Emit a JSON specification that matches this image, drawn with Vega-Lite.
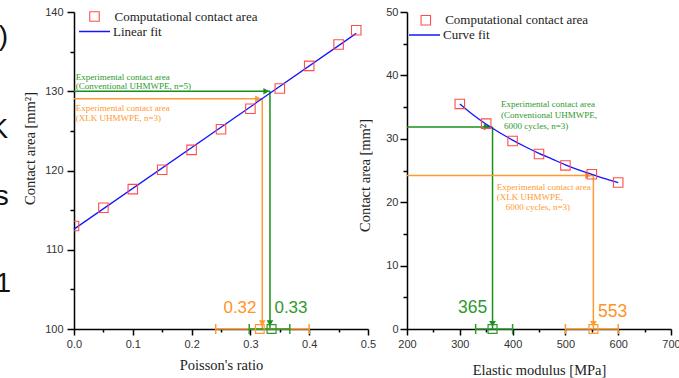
{
  "$schema": "https://vega.github.io/schema/vega-lite/v6.json",
  "autosize": {"type": "none"},
  "width": 605,
  "height": 317,
  "padding": {"left": 74, "top": 12, "right": 0, "bottom": 49},
  "background": "white",
  "config": {
    "view": {"stroke": null},
    "axis": {"grid": false, "domainColor": "#000", "domainWidth": 1.5, "tickColor": "#000", "tickWidth": 1.5, "labelFont": "Liberation Sans", "labelFontSize": 11, "labelColor": "#333", "titleFont": "Liberation Serif", "titleFontSize": 14.5, "titleFontWeight": "normal", "titleColor": "#222", "labelFlush": false, "labelOverlap": false, "labelBound": false},
    "legend": {"padding": 0, "labelFont": "Liberation Serif", "labelFontSize": 13, "labelColor": "#222"}
  },
  "layer": [
    {
      "encoding": {
        "x": {"field": "x", "type": "quantitative", "scale": {"domain": [0, 0.5], "range": [0, 294], "nice": false, "zero": false},
          "axis": {"orient": "bottom", "title": "Poisson's ratio", "values": [0, 0.05, 0.1, 0.15, 0.2, 0.25, 0.3, 0.35, 0.4, 0.45, 0.5],
            "labelExpr": "round(datum.value*100) % 10 == 0 ? format(datum.value, '.1f') : ''",
            "tickSize": {"condition": {"test": "round(datum.value*100) % 10 != 0", "value": 3}, "value": 6},
            "labelPadding": 3, "titleY": 36, "titleBaseline": "middle"}},
        "y": {"field": "y", "type": "quantitative", "scale": {"domain": [100, 140], "range": [317, 0], "nice": false, "zero": false},
          "axis": {"orient": "left", "title": "Contact area [mm²]", "values": [100, 105, 110, 115, 120, 125, 130, 135, 140],
            "labelExpr": "datum.value % 10 == 0 ? datum.label : ''",
            "tickSize": {"condition": {"test": "datum.value % 10 != 0", "value": 4}, "value": 7},
            "labelPadding": 4, "titleX": -37, "titleY": 136, "titleBaseline": "bottom"}}
      },
      "layer": [
        {
          "data": {"values": [{"x": -0.112, "y": 136.8, "t": ")"}, {"x": -0.112, "y": 125.1, "t": "K"}, {"x": -0.111, "y": 116.7, "t": "s"}, {"x": -0.107, "y": 105.7, "t": "1"}]},
          "mark": {"type": "text", "align": "right", "baseline": "middle", "font": "Liberation Sans", "fontSize": 28, "color": "#111"},
          "encoding": {"text": {"field": "t"}}
        },
        {
          "data": {"values": [{"x": 0, "x2": 0.3333, "y": 130, "y2": 130}, {"x": 0.3333, "x2": 0.3333, "y": 130, "y2": 100}]},
          "mark": {"type": "rule", "color": "#1a8f1a", "strokeWidth": 1.5},
          "encoding": {"x2": {"field": "x2"}, "y2": {"field": "y2"}}
        },
        {
          "data": {"values": [{"x": 0, "x2": 0.3202, "y": 129.05, "y2": 129.05}, {"x": 0.3202, "x2": 0.3202, "y": 129.05, "y2": 100}]},
          "mark": {"type": "rule", "color": "#ff9a33", "strokeWidth": 1.5},
          "encoding": {"x2": {"field": "x2"}, "y2": {"field": "y2"}}
        },
        {
          "data": {"values": [{"x": 0.327, "y": 130}]},
          "mark": {"type": "point", "shape": "triangle-right", "filled": true, "size": 45, "color": "#1a8f1a", "opacity": 1},
          "encoding": {}
        },
        {
          "data": {"values": [{"x": 0.3333, "y": 100.75}]},
          "mark": {"type": "point", "shape": "triangle-down", "filled": true, "size": 45, "color": "#1a8f1a", "opacity": 1},
          "encoding": {}
        },
        {
          "data": {"values": [{"x": 0.313, "y": 129.05}]},
          "mark": {"type": "point", "shape": "triangle-right", "filled": true, "size": 45, "color": "#ff9a33", "opacity": 1},
          "encoding": {}
        },
        {
          "data": {"values": [{"x": 0.3202, "y": 100.75}]},
          "mark": {"type": "point", "shape": "triangle-down", "filled": true, "size": 45, "color": "#ff9a33", "opacity": 1},
          "encoding": {}
        },
        {
          "data": {"values": [{"x": 0.241, "x2": 0.4, "y": 100}]},
          "mark": {"type": "rule", "color": "#ff9a33", "strokeWidth": 1.5},
          "encoding": {"x2": {"field": "x2"}}
        },
        {
          "data": {"values": [{"x": 0.241, "y": 100}, {"x": 0.4, "y": 100}]},
          "mark": {"type": "tick", "orient": "vertical", "size": 10, "thickness": 1.5, "color": "#ff9a33", "opacity": 1},
          "encoding": {}
        },
        {
          "data": {"values": [{"x": 0.298, "x2": 0.367, "y": 100}]},
          "mark": {"type": "rule", "color": "#2e9a2e", "strokeWidth": 1.5},
          "encoding": {"x2": {"field": "x2"}}
        },
        {
          "data": {"values": [{"x": 0.298, "y": 100}, {"x": 0.367, "y": 100}]},
          "mark": {"type": "tick", "orient": "vertical", "size": 10, "thickness": 1.5, "color": "#2e9a2e", "opacity": 1},
          "encoding": {}
        },
        {
          "data": {"values": [{"x": 0.316, "y": 100}]},
          "mark": {"type": "point", "shape": "square", "filled": false, "size": 75, "strokeWidth": 1.2, "color": "#ff9a33", "opacity": 1},
          "encoding": {}
        },
        {
          "data": {"values": [{"x": 0.336, "y": 100}]},
          "mark": {"type": "point", "shape": "square", "filled": false, "size": 80, "strokeWidth": 1.2, "color": "#2e9a2e", "opacity": 1},
          "encoding": {}
        },
        {
          "data": {"values": [{"x": 0, "y": 112.6, "series": "Linear fit"}, {"x": 0.48, "y": 137.3, "series": "Linear fit"}]},
          "mark": {"type": "line", "strokeWidth": 1.3},
          "encoding": {
            "color": {"field": "series", "type": "nominal", "scale": {"domain": ["Linear fit"], "range": ["#1414ff"]},
              "legend": {"orient": "none", "title": null, "legendX": 4, "legendY": 3, "symbolType": "stroke", "symbolSize": 961, "symbolStrokeWidth": 1.5, "labelOffset": 2}}
          }
        },
        {
          "data": {"values": [
            {"x": 0, "y": 113.0, "series": "Computational contact area"},
            {"x": 0.05, "y": 115.3, "series": "Computational contact area"},
            {"x": 0.1, "y": 117.65, "series": "Computational contact area"},
            {"x": 0.15, "y": 120.1, "series": "Computational contact area"},
            {"x": 0.2, "y": 122.6, "series": "Computational contact area"},
            {"x": 0.25, "y": 125.2, "series": "Computational contact area"},
            {"x": 0.3, "y": 127.8, "series": "Computational contact area"},
            {"x": 0.35, "y": 130.35, "series": "Computational contact area"},
            {"x": 0.4, "y": 133.2, "series": "Computational contact area"},
            {"x": 0.45, "y": 135.9, "series": "Computational contact area"},
            {"x": 0.48, "y": 137.7, "series": "Computational contact area"}
          ]},
          "mark": {"type": "point", "filled": false, "size": 90, "strokeWidth": 1.1, "color": "#ff4d4d", "opacity": 1, "clip": true},
          "encoding": {
            "shape": {"field": "series", "type": "nominal", "scale": {"domain": ["Computational contact area"], "range": ["square"]},
              "legend": {"orient": "none", "title": null, "legendX": 14, "legendY": -2, "symbolSize": 90, "symbolStrokeColor": "#ff4d4d", "symbolFillColor": "transparent", "symbolStrokeWidth": 1.1, "labelOffset": 13.5}}
          }
        },
        {
          "data": {"values": [{"x": 0.003, "y": 131.8, "t": "Experimental contact area"}, {"x": 0.003, "y": 130.66, "t": "(Conventional UHMWPE, n=5)"}]},
          "mark": {"type": "text", "align": "left", "baseline": "middle", "font": "Liberation Serif", "fontSize": 9, "color": "#2e9a2e"},
          "encoding": {"text": {"field": "t"}}
        },
        {
          "data": {"values": [{"x": 0.003, "y": 127.92, "t": "Experimental contact area"}, {"x": 0.003, "y": 126.66, "t": "(XLK UHMWPE, n=3)"}]},
          "mark": {"type": "text", "align": "left", "baseline": "middle", "font": "Liberation Serif", "fontSize": 9, "color": "#ff9a33"},
          "encoding": {"text": {"field": "t"}}
        },
        {
          "data": {"values": [{"x": 0.2823, "y": 102.69, "t": "0.32"}]},
          "mark": {"type": "text", "align": "center", "baseline": "middle", "font": "Liberation Sans", "fontSize": 17, "color": "#ff9326"},
          "encoding": {"text": {"field": "t"}}
        },
        {
          "data": {"values": [{"x": 0.369, "y": 102.69, "t": "0.33"}]},
          "mark": {"type": "text", "align": "center", "baseline": "middle", "font": "Liberation Sans", "fontSize": 17, "color": "#2e9a2e"},
          "encoding": {"text": {"field": "t"}}
        }
      ]
    },
    {
      "encoding": {
        "x": {"field": "x", "type": "quantitative", "scale": {"domain": [200, 700], "range": [333, 597], "nice": false, "zero": false},
          "axis": {"orient": "bottom", "title": "Elastic modulus [MPa]", "values": [200, 250, 300, 350, 400, 450, 500, 550, 600, 650, 700],
            "labelExpr": "datum.value % 100 == 0 ? datum.label : ''",
            "tickSize": {"condition": {"test": "datum.value % 100 != 0", "value": 3}, "value": 6},
            "labelPadding": 3, "titleY": 41, "titleBaseline": "middle"}},
        "y": {"field": "y", "type": "quantitative", "scale": {"domain": [0, 50], "range": [317, 0], "nice": false, "zero": false},
          "axis": {"orient": "left", "offset": -333, "title": "Contact area [mm²]", "values": [0, 5, 10, 15, 20, 25, 30, 35, 40, 45, 50],
            "labelExpr": "datum.value % 10 == 0 ? datum.label : ''",
            "tickSize": {"condition": {"test": "datum.value % 10 != 0", "value": 4}, "value": 7},
            "labelPadding": 2, "titleX": -35, "titleY": 163, "titleBaseline": "bottom"}}
      },
      "layer": [
        {
          "data": {"values": [{"x": 200, "x2": 362, "y": 31.86, "y2": 31.86}, {"x": 362, "x2": 362, "y": 31.86, "y2": 0}]},
          "mark": {"type": "rule", "color": "#1a8f1a", "strokeWidth": 1.5},
          "encoding": {"x2": {"field": "x2"}, "y2": {"field": "y2"}}
        },
        {
          "data": {"values": [{"x": 200, "x2": 553, "y": 24.2, "y2": 24.2}, {"x": 553, "x2": 553, "y": 24.2, "y2": 0}]},
          "mark": {"type": "rule", "color": "#ff9a33", "strokeWidth": 1.5},
          "encoding": {"x2": {"field": "x2"}, "y2": {"field": "y2"}}
        },
        {
          "data": {"values": [{"x": 351, "y": 31.86}]},
          "mark": {"type": "point", "shape": "triangle-right", "filled": true, "size": 45, "color": "#1a8f1a", "opacity": 1},
          "encoding": {}
        },
        {
          "data": {"values": [{"x": 362, "y": 0.8}]},
          "mark": {"type": "point", "shape": "triangle-down", "filled": true, "size": 45, "color": "#1a8f1a", "opacity": 1},
          "encoding": {}
        },
        {
          "data": {"values": [{"x": 543, "y": 24.2}]},
          "mark": {"type": "point", "shape": "triangle-right", "filled": true, "size": 45, "color": "#ff9a33", "opacity": 1},
          "encoding": {}
        },
        {
          "data": {"values": [{"x": 553, "y": 0.8}]},
          "mark": {"type": "point", "shape": "triangle-down", "filled": true, "size": 45, "color": "#ff9a33", "opacity": 1},
          "encoding": {}
        },
        {
          "data": {"values": [{"x": 330, "x2": 400, "y": 0}]},
          "mark": {"type": "rule", "color": "#2e9a2e", "strokeWidth": 1.5},
          "encoding": {"x2": {"field": "x2"}}
        },
        {
          "data": {"values": [{"x": 330, "y": 0}, {"x": 400, "y": 0}]},
          "mark": {"type": "tick", "orient": "vertical", "size": 10, "thickness": 1.5, "color": "#2e9a2e", "opacity": 1},
          "encoding": {}
        },
        {
          "data": {"values": [{"x": 500, "x2": 600, "y": 0}]},
          "mark": {"type": "rule", "color": "#ff9a33", "strokeWidth": 1.5},
          "encoding": {"x2": {"field": "x2"}}
        },
        {
          "data": {"values": [{"x": 500, "y": 0}, {"x": 600, "y": 0}]},
          "mark": {"type": "tick", "orient": "vertical", "size": 10, "thickness": 1.5, "color": "#ff9a33", "opacity": 1},
          "encoding": {}
        },
        {
          "data": {"values": [{"x": 362, "y": 0}]},
          "mark": {"type": "point", "shape": "square", "filled": false, "size": 80, "strokeWidth": 1.2, "color": "#2e9a2e", "opacity": 1},
          "encoding": {}
        },
        {
          "data": {"values": [{"x": 553, "y": 0}]},
          "mark": {"type": "point", "shape": "square", "filled": false, "size": 80, "strokeWidth": 1.2, "color": "#ff9a33", "opacity": 1},
          "encoding": {}
        },
        {
          "data": {"values": [
            {"x": 300, "y": 35.5, "series": "Curve fit"},
            {"x": 325, "y": 33.8, "series": "Curve fit"},
            {"x": 350, "y": 32.3, "series": "Curve fit"},
            {"x": 375, "y": 31.0, "series": "Curve fit"},
            {"x": 400, "y": 29.8, "series": "Curve fit"},
            {"x": 425, "y": 28.7, "series": "Curve fit"},
            {"x": 450, "y": 27.7, "series": "Curve fit"},
            {"x": 475, "y": 26.8, "series": "Curve fit"},
            {"x": 500, "y": 25.9, "series": "Curve fit"},
            {"x": 525, "y": 25.1, "series": "Curve fit"},
            {"x": 550, "y": 24.4, "series": "Curve fit"},
            {"x": 575, "y": 23.7, "series": "Curve fit"},
            {"x": 600, "y": 23.1, "series": "Curve fit"}
          ]},
          "mark": {"type": "line", "strokeWidth": 1.3, "interpolate": "monotone"},
          "encoding": {
            "color": {"field": "series", "type": "nominal", "scale": {"domain": ["Curve fit"], "range": ["#1414ff"]},
              "legend": {"orient": "none", "title": null, "legendX": 334, "legendY": 6.5, "symbolType": "stroke", "symbolSize": 961, "symbolStrokeWidth": 1.5, "labelOffset": 2}}
          }
        },
        {
          "data": {"values": [
            {"x": 300, "y": 35.5, "series": "Computational contact area"},
            {"x": 350, "y": 32.4, "series": "Computational contact area"},
            {"x": 400, "y": 29.65, "series": "Computational contact area"},
            {"x": 450, "y": 27.6, "series": "Computational contact area"},
            {"x": 500, "y": 25.8, "series": "Computational contact area"},
            {"x": 550, "y": 24.4, "series": "Computational contact area"},
            {"x": 600, "y": 23.1, "series": "Computational contact area"}
          ]},
          "mark": {"type": "point", "filled": false, "size": 90, "strokeWidth": 1.1, "color": "#ff4d4d", "opacity": 1},
          "encoding": {
            "shape": {"field": "series", "type": "nominal", "scale": {"domain": ["Computational contact area"], "range": ["square"]},
              "legend": {"orient": "none", "title": null, "legendX": 345.3, "legendY": 1.7, "symbolSize": 90, "symbolStrokeColor": "#ff4d4d", "symbolFillColor": "transparent", "symbolStrokeWidth": 1.1, "labelOffset": 12.9}}
          }
        },
        {
          "data": {"values": [{"x": 378.0, "y": 35.44, "t": "Experimental contact area"}, {"x": 378.0, "y": 33.75, "t": "(Conventional UHMWPE,"}, {"x": 383.7, "y": 32.07, "t": "6000 cycles, n=3)"}]},
          "mark": {"type": "text", "align": "left", "baseline": "middle", "font": "Liberation Serif", "fontSize": 9, "color": "#2e9a2e"},
          "encoding": {"text": {"field": "t"}}
        },
        {
          "data": {"values": [{"x": 369.9, "y": 22.44, "t": "Experimental contact area"}, {"x": 369.9, "y": 20.87, "t": "(XLK UHMWPE,"}, {"x": 386.9, "y": 19.2, "t": "6000 cycles, n=3)"}]},
          "mark": {"type": "text", "align": "left", "baseline": "middle", "font": "Liberation Serif", "fontSize": 9, "color": "#ff9a33"},
          "encoding": {"text": {"field": "t"}}
        },
        {
          "data": {"values": [{"x": 324.4, "y": 3.26, "t": "365"}]},
          "mark": {"type": "text", "align": "center", "baseline": "middle", "font": "Liberation Sans", "fontSize": 17.5, "color": "#2e9a2e"},
          "encoding": {"text": {"field": "t"}}
        },
        {
          "data": {"values": [{"x": 589.6, "y": 2.73, "t": "553"}]},
          "mark": {"type": "text", "align": "center", "baseline": "middle", "font": "Liberation Sans", "fontSize": 17.5, "color": "#ff9326"},
          "encoding": {"text": {"field": "t"}}
        }
      ]
    }
  ],
  "resolve": {
    "scale": {"x": "independent", "y": "independent", "color": "independent", "shape": "independent"},
    "axis": {"x": "independent", "y": "independent"},
    "legend": {"color": "independent", "shape": "independent"}
  }
}
